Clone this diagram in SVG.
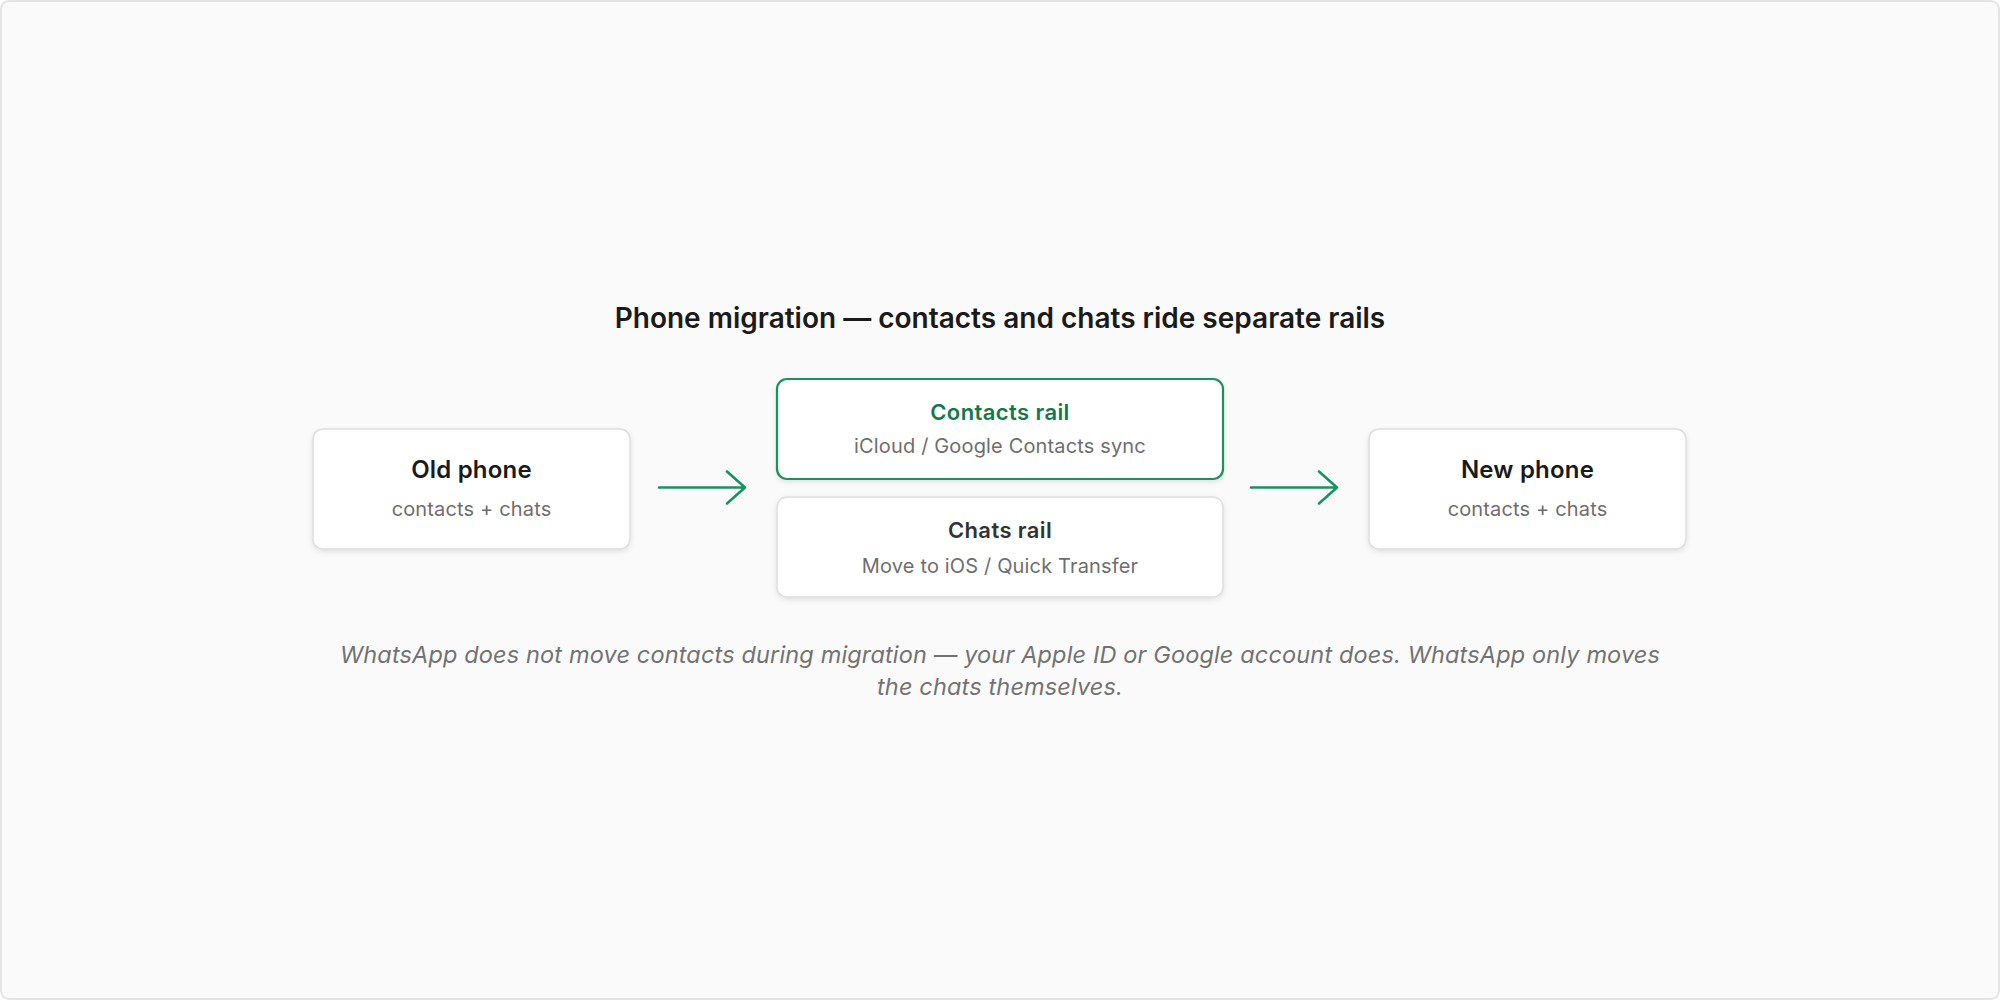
<svg xmlns="http://www.w3.org/2000/svg" width="2000" height="1000" viewBox="0 0 2000 1000">
<defs>
<filter id="sh" x="-10%" y="-20%" width="120%" height="150%">
<feDropShadow dx="0" dy="2" stdDeviation="2.5" flood-color="#000" flood-opacity="0.10"/>
</filter>
<style>
.card{fill:#ffffff;stroke:#dedede;stroke-width:1.5;filter:url(#sh)}
.green{fill:#ffffff;stroke:#17935f;stroke-width:2.2;filter:url(#sh)}
.t{font-family:Inter,"Noto Sans","DejaVu Sans",sans-serif;text-anchor:middle}
.title{font-size:28px;font-weight:600;fill:#1a1a1a}
.h{font-size:24px;font-weight:600;fill:#1a1a1a;letter-spacing:0.2px}
.hg{font-size:22px;font-weight:600;fill:#11794f;letter-spacing:0.4px}
.hd{font-size:22px;font-weight:600;fill:#333333;letter-spacing:0.4px}
.s{font-size:20px;fill:#6e6e6e;letter-spacing:0.15px}
.foot{font-size:23.5px;font-style:italic;fill:#727272;letter-spacing:0.15px}
.arr{fill:none;stroke:#17935f;stroke-width:2.6;stroke-linecap:round;stroke-linejoin:round}
</style>
</defs>
<rect x="1" y="1" width="1998" height="998" rx="8" fill="#fafafa" stroke="#e4e4e4" stroke-width="2"/>
<text class="t title" x="1000" y="328">Phone migration — contacts and chats ride separate rails</text>
<g id="old-phone">
<rect class="card" x="313" y="429" width="317" height="120" rx="10"/>
<text class="t h" x="471.5" y="478">Old phone</text>
<text class="t s" x="471.5" y="516">contacts + chats</text>
</g>
<g id="contacts-rail">
<rect class="green" x="777" y="379" width="446" height="100" rx="10"/>
<text class="t hg" x="1000" y="420">Contacts rail</text>
<text class="t s" x="1000" y="453">iCloud / Google Contacts sync</text>
</g>
<g id="chats-rail">
<rect class="card" x="777" y="497" width="446" height="100" rx="10"/>
<text class="t hd" x="1000" y="538">Chats rail</text>
<text class="t s" x="1000" y="573">Move to iOS / Quick Transfer</text>
</g>
<g id="new-phone">
<rect class="card" x="1369" y="429" width="317" height="120" rx="10"/>
<text class="t h" x="1527.5" y="478">New phone</text>
<text class="t s" x="1527.5" y="516">contacts + chats</text>
</g>
<g id="connectors">
<path class="arr" d="M659 487.5 H745 M727 471.5 L745 487.5 L727 503.5"/>
<path class="arr" d="M1251 487.5 H1337 M1319 471.5 L1337 487.5 L1319 503.5"/>
</g>
<g id="note">
<text class="t foot" x="1000" y="663">WhatsApp does not move contacts during migration — your Apple ID or Google account does. WhatsApp only moves</text>
<text class="t foot" x="1000" y="695">the chats themselves.</text>
</g>
</svg>
